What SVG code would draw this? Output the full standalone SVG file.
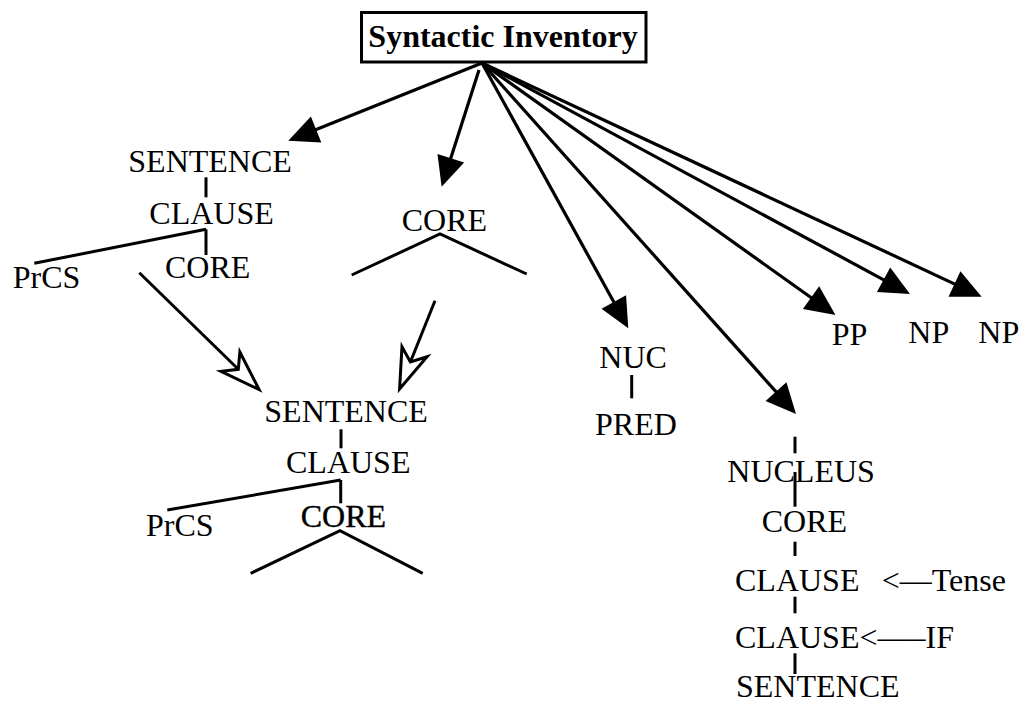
<svg xmlns="http://www.w3.org/2000/svg" width="1021" height="704" viewBox="0 0 1021 704">
<style>
text{font-family:"Liberation Serif","Times New Roman",serif;font-size:32px;fill:#000}
.title{font-weight:bold;text-anchor:middle}
.heavy{stroke:#000;stroke-width:0.4}
.ln{stroke:#000;stroke-width:3;fill:none;stroke-linecap:butt}
.arr{stroke:#000;stroke-width:3.2;fill:none;marker-end:url(#solid)}
.oarr{stroke:#000;stroke-width:3;fill:none;marker-end:url(#open)}
</style>
<defs>
<marker id="solid" markerUnits="userSpaceOnUse" viewBox="0 0 30 28" markerWidth="30" markerHeight="28" refX="18" refY="14" orient="auto" overflow="visible">
<path d="M0,0 L30,14 L0,28 z" fill="#000"/>
</marker>
<marker id="open" markerUnits="userSpaceOnUse" viewBox="-3 -17 46 34" markerWidth="46" markerHeight="34" refX="11" refY="0" orient="auto" overflow="visible">
<path d="M0,-13.5 L40,0 L0,13.5 L11,0 z" fill="#fff" stroke="#000" stroke-width="3" stroke-linejoin="miter"/>
</marker>
</defs>
<rect width="1021" height="704" fill="#fff"/>

<g id="connectors">
<line class="arr" x1="482" y1="63" x2="299.4" y2="136.2"/>
<line class="arr" x1="479" y1="70" x2="445.3" y2="175.3"/>
<line class="arr" x1="482" y1="63" x2="622.5" y2="317.8"/>
<line class="arr" x1="482" y1="63" x2="788" y2="405.1"/>
<line class="arr" x1="482" y1="63" x2="825.7" y2="308"/>
<line class="arr" x1="482" y1="63" x2="899.4" y2="288.3"/>
<line class="arr" x1="482" y1="63" x2="970.8" y2="291.6"/>
<line class="oarr" x1="139.3" y1="272.7" x2="238.3" y2="369.3"/>
<line class="oarr" x1="435" y1="300.7" x2="410.4" y2="362"/>
</g>

<g id="title">
<rect x="361.5" y="12.5" width="284.5" height="49.5" fill="#fff" stroke="#000" stroke-width="3"/>
<text class="title" x="503" y="47">Syntactic Inventory</text>
</g>

<g id="tree-sentence-top">
<text x="128.3" y="172.3">SENTENCE</text>
<line class="ln" x1="206" y1="177.3" x2="206" y2="197.3"/>
<text x="149.3" y="224">CLAUSE</text>
<line class="ln" x1="206" y1="229.3" x2="34.3" y2="263.3"/>
<line class="ln" x1="206" y1="229.3" x2="206" y2="255"/>
<text x="12.7" y="288.3">PrCS</text>
<text x="165" y="278.3">CORE</text>
</g>

<g id="tree-core-top">
<text x="401.7" y="230.7">CORE</text>
<polyline class="ln" points="351.7,275 440,234 526.7,274"/>
</g>

<g id="tree-sentence-bottom">
<text x="264.3" y="421.7">SENTENCE</text>
<line class="ln" x1="341" y1="429.3" x2="341" y2="448.3"/>
<text x="286" y="473.3">CLAUSE</text>
<line class="ln" x1="340.7" y1="480" x2="167.3" y2="510"/>
<line class="ln" x1="340.7" y1="480" x2="340.7" y2="503.3"/>
<text x="146" y="535.7">PrCS</text>
<text class="heavy" x="300.7" y="526.7">CORE</text>
<polyline class="ln" points="250.7,573.3 340,530.7 422.7,573.3"/>
</g>

<g id="tree-nuc">
<text x="599.3" y="368.3">NUC</text>
<line class="ln" x1="631.7" y1="375" x2="631.7" y2="398.3"/>
<text x="595" y="435">PRED</text>
</g>

<g id="node-pp"><text x="831.7" y="345">PP</text></g>
<g id="node-np1"><text x="908.3" y="343.3">NP</text></g>
<g id="node-np2"><text x="978.3" y="343.3">NP</text></g>

<g id="tree-nucleus">
<line class="ln" x1="795" y1="436.7" x2="795" y2="453.3"/>
<text x="727.3" y="481.7">NUCLEUS</text>
<line class="ln" x1="795" y1="472" x2="795" y2="506.7"/>
<text x="761.7" y="531.7">CORE</text>
<line class="ln" x1="795" y1="541.7" x2="795" y2="556"/>
<text x="735" y="590.7">CLAUSE</text>
<text x="881.7" y="590.7">&lt;—Tense</text>
<line class="ln" x1="795" y1="596.7" x2="795" y2="613.3"/>
<text x="735" y="648.3">CLAUSE&lt;—–IF</text>
<line class="ln" x1="795" y1="653.3" x2="795" y2="674"/>
<text x="736" y="697">SENTENCE</text>
</g>
</svg>
